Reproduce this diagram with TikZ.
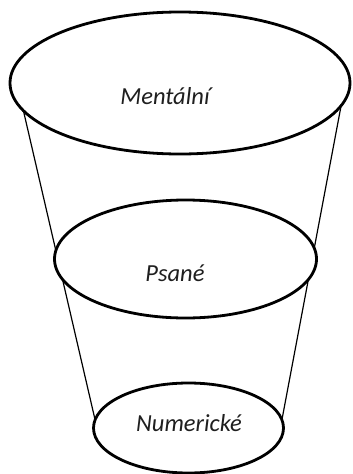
\documentclass[tikz,border=0pt]{standalone}
\usepackage{fontspec}
\setmainfont{Carlito}
\usetikzlibrary{shapes.geometric,backgrounds}
\begin{document}
\begin{tikzpicture}[x=1pt,y=1pt,
  level/.style={ellipse,draw=black,line width=2.8pt,fill=white,inner sep=0pt,outer sep=0pt},
  side/.style={draw=black,line width=1.2pt},
  tag/.style={font=\fontsize{24.5}{29}\selectfont\itshape,text=black!88,inner sep=0pt}]
  \useasboundingbox (0,0) rectangle (353,-474);
  % the three levels of the funnel
  \node[level,minimum width=340pt,minimum height=142pt] (top) at (180,-83) {};
  \node[level,minimum width=262pt,minimum height=118pt] (mid) at (185.5,-259) {};
  \node[level,minimum width=190pt,minimum height=90pt] (bot) at (188.5,-428) {};
  % labels
  \node[tag] (tMent) at (165,-96) {Mentální};
  \node[tag] (tPsan) at (175,-273) {Psané};
  \node[tag] (tNum) at (189,-423) {Numerické};
  % side walls behind the levels
  \begin{pgfonlayer}{background}
    \fill[white] (0,0) rectangle (353,-474);
    \draw[side] (top.190) -- (bot.175);
    \draw[side] (top.352) -- (bot.5);
  \end{pgfonlayer}
\end{tikzpicture}
\end{document}
